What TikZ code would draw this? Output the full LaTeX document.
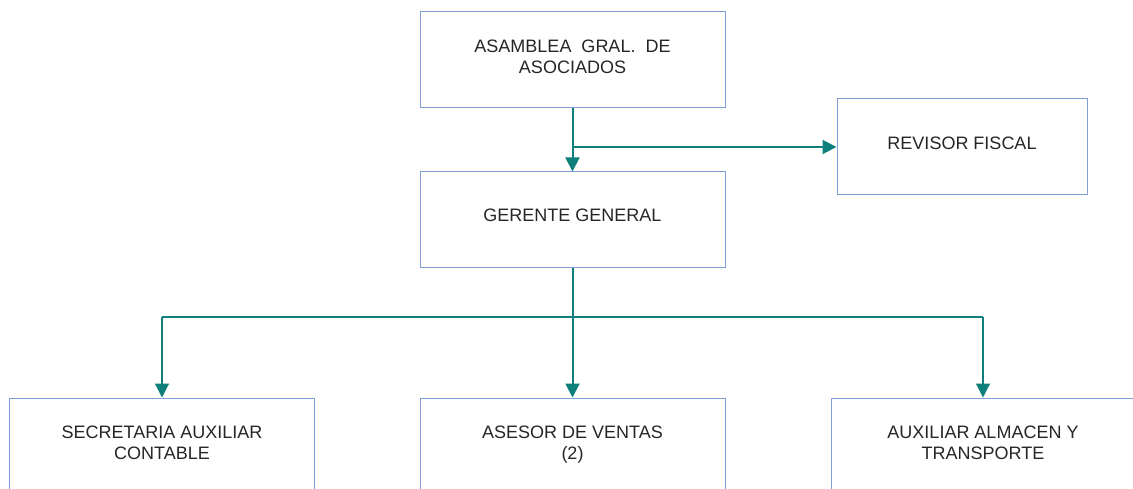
\documentclass[tikz,border=0pt]{standalone}
\usepackage{fontspec}
\setmainfont{Liberation Sans}
\definecolor{tealOrg}{HTML}{0F7F7C}
\definecolor{blueOrg}{HTML}{7F9ED6}
\usetikzlibrary{
  positioning,
  arrows.meta
}

\begin{document}
\begin{tikzpicture}[
    x = 1pt, y = -1pt,
    % Boxes.
    puesto/.style = {
      draw = blueOrg,
      line width = 1pt,
      fill = white,
      minimum width = 305pt,
      minimum height = 96pt,
      inner sep = 0pt,
      align = center,
      font = \fontsize{18}{21}\selectfont,
      text = black!85
    },
    % Links.
    enlace/.style = {
      draw = tealOrg,
      line width = 2pt,
      -{Triangle[length = 14pt, width = 14pt]}
    },
    rama/.style = {
      draw = tealOrg,
      line width = 1.2pt
    }
  ]
  \useasboundingbox (0,0) rectangle (1133,489);

  % Top.
  \node[puesto] (asamblea) at (572.5,60) {ASAMBLEA\ \ GRAL.\ \ DE\\ASOCIADOS\\[-14pt]};
  \node[puesto, minimum width = 250pt] (revisor) at (962,147) {REVISOR FISCAL\\[-14pt]};
  \node[puesto] (gerente) at (572.5,220) {GERENTE GENERAL\\[-12pt]};

  % Bottom row.
  \node[puesto] (secretaria) at (162,446) {SECRETARIA AUXILIAR\\CONTABLE\\[-14pt]};
  \node[puesto] (asesor) at (572.5,446) {ASESOR DE VENTAS\\(2)\\[-14pt]};
  \node[puesto, minimum width = 304pt] (auxiliar) at (983,446) {AUXILIAR ALMACEN Y\\TRANSPORTE\\[-14pt]};

  % Links.
  \coordinate (cruce) at (asamblea.south |- revisor.west);
  \coordinate (bus) at (572.5,317);
  \coordinate (busL) at (secretaria.north |- bus);
  \coordinate (busR) at (auxiliar.north |- bus);
  \draw[enlace] (asamblea) -- (gerente);
  \draw[enlace] (cruce) -- (revisor);
  \draw[rama] (busL) -- (busR);
  \draw[enlace] (gerente) -- (asesor);
  \draw[enlace, line width = 1.2pt] (busL) -- (secretaria);
  \draw[enlace, line width = 1.2pt] (busR) -- (auxiliar);
\end{tikzpicture}
\end{document}
